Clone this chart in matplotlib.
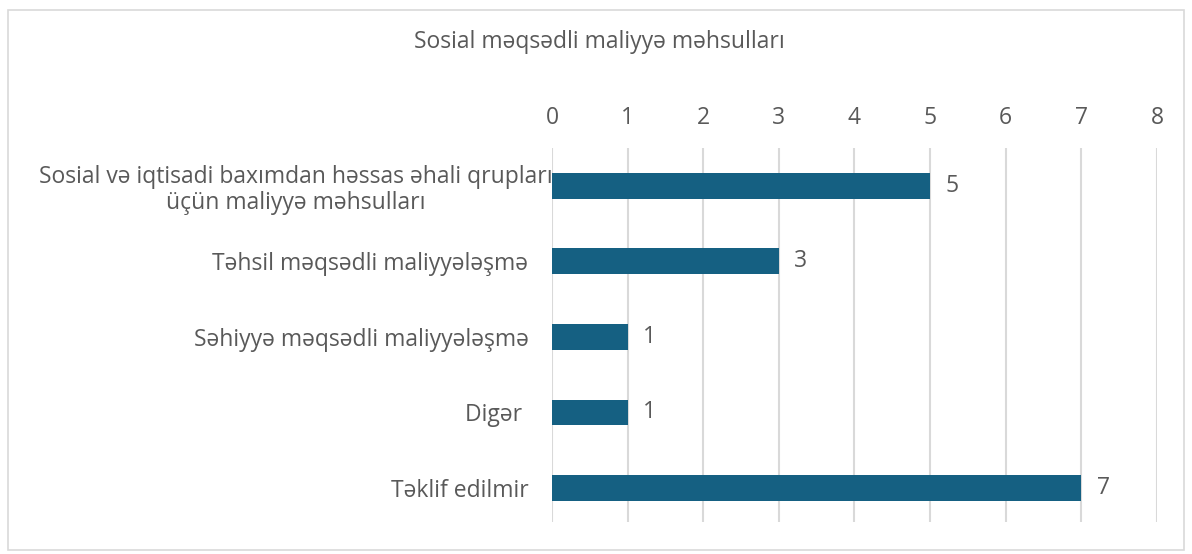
import matplotlib.pyplot as plt
from matplotlib.patches import Rectangle

categories = [
    "Sosial və iqtisadi baxımdan həssas əhali qrupları\nüçün maliyyə məhsulları",
    "Təhsil məqsədli maliyyələşmə",
    "Səhiyyə məqsədli maliyyələşmə",
    "Digər ",
    "Təklif edilmir",
]
values = [5, 3, 1, 1, 7]
ticks = [0, 1, 2, 3, 4, 5, 6, 7, 8]
title = "Sosial məqsədli maliyyə məhsulları"

BAR = "#156082"
TXT = "#595959"
GRID = "#d9d9d9"
FS = 16.5

plt.rcParams['font.family'] = ['Open Sans', 'DejaVu Sans']

fig = plt.figure(figsize=(11.92, 5.54), dpi=100)
ax = fig.add_axes([0.4631, 0.0578, 0.5075, 0.6751])

pos = list(range(len(categories)))
ax.barh(pos, values, height=0.34, color=BAR, zorder=3)
for p, v in zip(pos, values):
    ax.annotate(str(v), (v, p), xytext=(11, 0), textcoords='offset points',
                va='center', ha='left', fontsize=FS, color=TXT)

ax.set_xlim(0, 8)
ax.set_ylim(4.45, -0.5)
ax.set_xticks(ticks)
ax.set_yticks(pos)
ax.set_yticklabels(categories, ha='right', multialignment='center', linespacing=1.15)
ax.xaxis.tick_top()
ax.tick_params(axis='x', length=0, pad=13, labelsize=FS, labelcolor=TXT)
ax.tick_params(axis='y', length=0, pad=17, labelsize=FS, labelcolor=TXT)
# the wrapped label sits a little further right in the original
ax.get_yticklabels()[0].set_x(0.04)
ax.grid(axis='x', color=GRID, linewidth=1.5, zorder=0)
for s in ax.spines.values():
    s.set_visible(False)

fig.text(0.503, 0.925, title, ha='center', va='center', fontsize=FS, color=TXT)
fig.patches.append(Rectangle((0.007, 0.007), 0.986, 0.975, transform=fig.transFigure,
                             fill=False, edgecolor=GRID, linewidth=1.2))

fig.savefig("out.png", dpi=100)
